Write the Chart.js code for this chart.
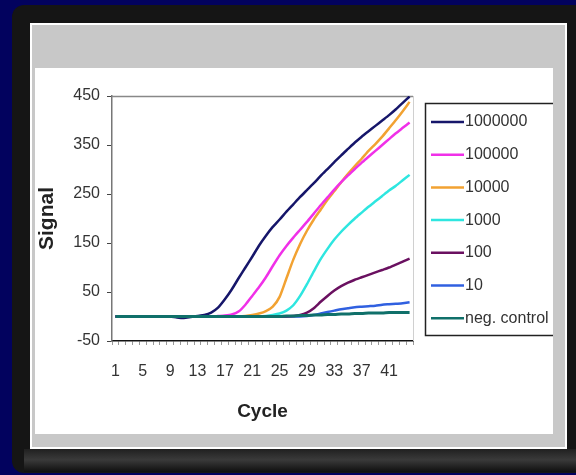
<!DOCTYPE html>
<html>
<head>
<meta charset="utf-8">
<script src="https://cdn.jsdelivr.net/npm/chart.js@4.4.1/dist/chart.umd.min.js"></script>
<style>
  html, body { margin: 0; padding: 0; background: #02025e; }
  canvas { display: block; }
</style>
</head>
<body>
<canvas id="chart" width="576" height="475"></canvas>
<script>
// cycle numbers on the x axis
const cycles = [1, 2, 3, 4, 5, 6, 7, 8, 9, 10, 11, 12, 13, 14, 15, 16, 17, 18, 19, 20, 21, 22,
  23, 24, 25, 26, 27, 28, 29, 30, 31, 32, 33, 34, 35, 36, 37, 38, 39, 40, 41, 42, 43, 44];

const seriesNames = ["1000000", "100000", "10000", "1000", "100", "10", "neg. control"];

const copies1000000 = [0, 0, 0, 0, 0, 0, 0, 0, 0, -2, -3, -1, 1, 3, 8, 18, 35, 55, 78, 100, 122, 145,
  165, 183, 198, 214, 229, 244, 258, 272, 287, 301, 315, 329, 342, 355, 367, 378, 389, 400, 411, 423, 436, 449];
const copies100000 = [0, 0, 0, 0, 0, 0, 0, 0, 0, 0, 0, 0, 0, 0, 0, 1, 2, 4, 10, 24, 42, 60,
  80, 103, 125, 144, 161, 177, 193, 210, 227, 243, 259, 274, 288, 301, 314, 326, 338, 350, 362, 374, 385, 396];
const copies10000 = [0, 0, 0, 0, 0, 0, 0, 0, 0, 0, 0, 0, 0, 0, 0, 0, 0, 0, 0, 1, 3, 6,
  11, 20, 40, 78, 116, 148, 175, 198, 218, 238, 256, 274, 291, 307, 322, 338, 352, 367, 384, 401, 419, 438];
const copies1000 = [0, 0, 0, 0, 0, 0, 0, 0, 0, 0, 0, 0, 0, 0, 0, 0, 0, 0, 0, 0, 0, 0,
  1, 3, 6, 12, 23, 42, 66, 92, 117, 138, 157, 173, 187, 200, 212, 224, 235, 246, 257, 267, 278, 289];
const copies100 = [0, 0, 0, 0, 0, 0, 0, 0, 0, 0, 0, 0, 0, 0, 0, 0, 0, 0, 0, 0, 0, 0,
  0, 0, 0, 0, 1, 3, 8, 17, 30, 42, 53, 62, 69, 75, 80, 85, 90, 95, 100, 106, 112, 118];
const copies10 = [0, 0, 0, 0, 0, 0, 0, 0, 0, 0, 0, 0, 0, 0, 0, 0, 0, 0, 0, 0, 0, 0,
  0, 0, 0, 0, 0, 0, 1, 3, 6, 9, 12, 15, 17, 19, 20, 21, 22, 24, 25, 26, 27, 29];
const negControl = [0, 0, 0, 0, 0, 0, 0, 0, 0, 0, 0, 0, 0, 0, 0, 0, 0, 0, 0, 0, 0, 0,
  0, 0, 0, 1, 1, 2, 2, 3, 3, 4, 4, 5, 5, 6, 6, 7, 7, 7, 8, 8, 8, 8];

const yTicks = [-50, 50, 150, 250, 350, 450];

const lineColors = ["#16166a", "#f030e8", "#f2a232", "#2ee6e0", "#6a1060", "#3060e0", "#10706a"];
const seriesData = [copies1000000, copies100000, copies10000, copies1000, copies100, copies10, negControl];

const FONT = "'Liberation Sans', Arial, sans-serif";

// slide-like backdrop: navy page, dark frame, grey/white panel
const backdrop = {
  id: "backdrop",
  beforeDraw(chart) {
    const { ctx, width, height } = chart;
    ctx.save();
    ctx.fillStyle = "#02025e";
    ctx.fillRect(0, 0, width, height);
    ctx.fillStyle = "#151515";
    ctx.beginPath();
    ctx.roundRect(12, 5, 590, 468, 12);
    ctx.fill();
    const band = ctx.createLinearGradient(0, 449, 0, 473);
    band.addColorStop(0, "#202020");
    band.addColorStop(0.45, "#3a3a3a");
    band.addColorStop(1, "#0c0c0c");
    ctx.fillStyle = band;
    ctx.fillRect(24, 449, 552, 23);
    ctx.fillStyle = "#ffffff";
    ctx.fillRect(30, 23, 537, 426);
    ctx.fillStyle = "#c8c8c8";
    ctx.fillRect(32, 25, 533, 422);
    ctx.fillStyle = "#ffffff";
    ctx.fillRect(35, 68, 518, 366);
    ctx.restore();
  },
};

// top and right border of the plot area
const plotFrame = {
  id: "plotFrame",
  beforeDatasetsDraw(chart) {
    const { ctx, chartArea: a } = chart;
    ctx.save();
    ctx.lineWidth = 1.5;
    ctx.strokeStyle = "#888";
    ctx.beginPath();
    ctx.moveTo(a.left, a.top + 0.5);
    ctx.lineTo(a.right, a.top + 0.5);
    ctx.stroke();
    ctx.lineWidth = 1;
    ctx.strokeStyle = "#d0d0d0";
    ctx.beginPath();
    ctx.moveTo(a.right + 0.5, a.top);
    ctx.lineTo(a.right + 0.5, a.bottom);
    ctx.stroke();
    ctx.restore();
  },
};

// boxed legend on the right, like Excel
const boxLegend = {
  id: "boxLegend",
  afterDraw(chart) {
    const { ctx } = chart;
    ctx.save();
    ctx.lineWidth = 1.5;
    ctx.strokeStyle = "#222";
    ctx.beginPath();
    ctx.moveTo(553, 103.5);
    ctx.lineTo(425.5, 103.5);
    ctx.lineTo(425.5, 335.5);
    ctx.lineTo(553, 335.5);
    ctx.stroke();
    ctx.font = "16px " + FONT;
    ctx.textBaseline = "middle";
    ctx.textAlign = "left";
    chart.data.datasets.forEach((ds, i) => {
      const y = 122 + i * 32.7;
      ctx.strokeStyle = ds.borderColor;
      ctx.lineWidth = 2.5;
      ctx.beginPath();
      ctx.moveTo(431, y);
      ctx.lineTo(464, y);
      ctx.stroke();
      ctx.fillStyle = "#333";
      ctx.fillText(ds.label, 465, y);
    });
    ctx.restore();
  },
};

const datasets = seriesNames.map((name, i) => ({
  label: name,
  data: seriesData[i],
  borderColor: lineColors[i],
  backgroundColor: lineColors[i],
  borderWidth: i === 6 ? 3 : 2.5,
  pointRadius: 0,
  tension: 0.2,
  fill: false,
  order: i === 6 ? 0 : i + 1,
}));

new Chart(document.getElementById("chart"), {
  type: "line",
  data: { labels: cycles, datasets: datasets },
  options: {
    responsive: false,
    animation: false,
    devicePixelRatio: 1,
    layout: { padding: { left: 35, top: 96, right: 163, bottom: 52 } },
    plugins: {
      legend: { display: false },
      tooltip: { enabled: false },
    },
    scales: {
      x: {
        type: "category",
        offset: true,
        afterFit(scale) {
          scale.height = 82;
        },
        grid: {
          offset: true,
          drawOnChartArea: false,
          drawTicks: true,
          tickLength: 4,
          color: "#999",
        },
        border: { display: true, color: "#111", width: 1.5 },
        ticks: {
          autoSkip: false,
          maxRotation: 0,
          padding: 17,
          color: "#333",
          font: { family: FONT, size: 16 },
          callback(value, index) {
            return index % 4 === 0 ? this.getLabelForValue(value) : "";
          },
        },
        title: {
          display: true,
          text: "Cycle",
          color: "#222",
          padding: 0,
          font: { family: FONT, size: 19, weight: "bold" },
        },
      },
      y: {
        min: -50,
        max: 450,
        afterFit(scale) {
          scale.width = 77;
        },
        afterBuildTicks(scale) {
          scale.ticks = yTicks.map((v) => ({ value: v }));
        },
        grid: {
          drawOnChartArea: false,
          drawTicks: true,
          tickLength: 5,
          color: "#444",
        },
        border: { display: true, color: "#777", width: 1.5 },
        ticks: {
          padding: 7,
          color: "#333",
          font: { family: FONT, size: 16 },
        },
        title: {
          display: true,
          text: "Signal",
          color: "#222",
          padding: 0,
          font: { family: FONT, size: 21, weight: "bold" },
        },
      },
    },
  },
  plugins: [backdrop, plotFrame, boxLegend],
});
</script>
</body>
</html>
